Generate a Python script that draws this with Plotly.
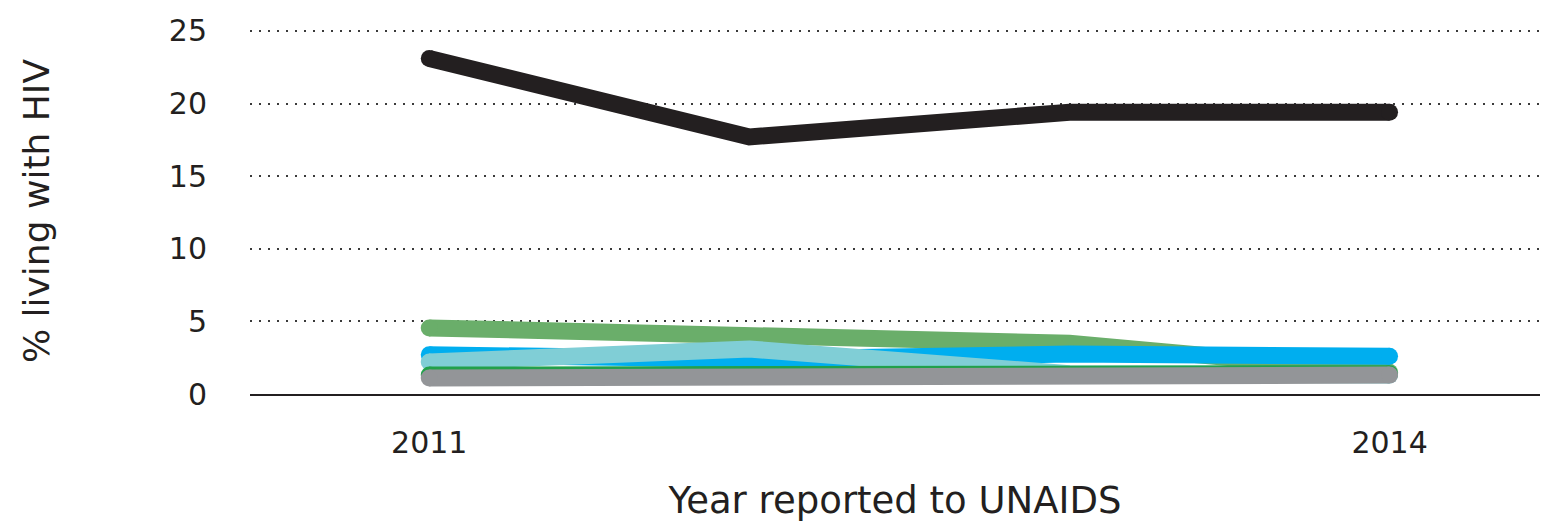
import plotly.graph_objects as go

# Reporting years and prevalence (%) for each group
years = [2011, 2012, 2013, 2014]
black_vals = [23.1, 17.7, 19.4, 19.4]
green_vals = [4.55, 3.9, 3.5, 1.5]
blue_vals = [2.7, 2.4, 2.75, 2.6]
lightblue_vals = [2.2, 3.1, 1.4, 1.3]
darkgreen_vals = [1.3, 1.35, 1.4, 1.4]
gray_vals = [1.1, 1.1, 1.35, 1.3]

y_ticks = [0, 5, 10, 15, 20, 25]
x_ticks = [2011, 2014]

FONT = "DejaVu Sans"
TEXT = "#231f20"
LW = 17

series = [
    (green_vals, "#6aae6a"),
    (blue_vals, "#00aeef"),
    (lightblue_vals, "#80ced6"),
    (darkgreen_vals, "#22a04b"),
    (gray_vals, "#939598"),
    (black_vals, "#231f20"),
]

fig = go.Figure()
for vals, color in series:
    # thick line plus end dots to give rounded caps
    fig.add_trace(go.Scatter(
        x=years, y=vals, mode="lines",
        line=dict(color=color, width=LW),
        hoverinfo="skip", showlegend=False,
    ))
    fig.add_trace(go.Scatter(
        x=[years[0], years[-1]], y=[vals[0], vals[-1]], mode="markers",
        marker=dict(color=color, size=LW, line=dict(width=0)),
        hoverinfo="skip", showlegend=False,
    ))

fig.update_layout(
    width=1551, height=525,
    margin=dict(l=250, r=11, t=28, b=131),
    plot_bgcolor="white", paper_bgcolor="white",
    font=dict(family=FONT, color=TEXT, size=30),
)

fig.update_xaxes(
    range=[2010.44, 2014.47],
    tickvals=x_ticks, ticktext=[str(v) for v in x_ticks],
    showgrid=False, zeroline=False,
    showline=True, linecolor="#231f20", linewidth=2,
    ticks="", ticklabelstandoff=21,
    tickfont=dict(size=30),
    automargin=False,
    title=dict(text="Year reported to UNAIDS", font=dict(size=37), standoff=28),
)

fig.update_yaxes(
    range=[0, 25.2],
    tickvals=y_ticks,
    showgrid=True, gridcolor="#3a3a3a", gridwidth=1.5, griddash="2px,7px",
    zeroline=False, showline=False,
    ticks="", ticklabelstandoff=42,
    tickfont=dict(size=30),
    automargin=False,
    title=dict(text="% living with HIV", font=dict(size=36), standoff=108),
)

fig.write_html("out.html")
